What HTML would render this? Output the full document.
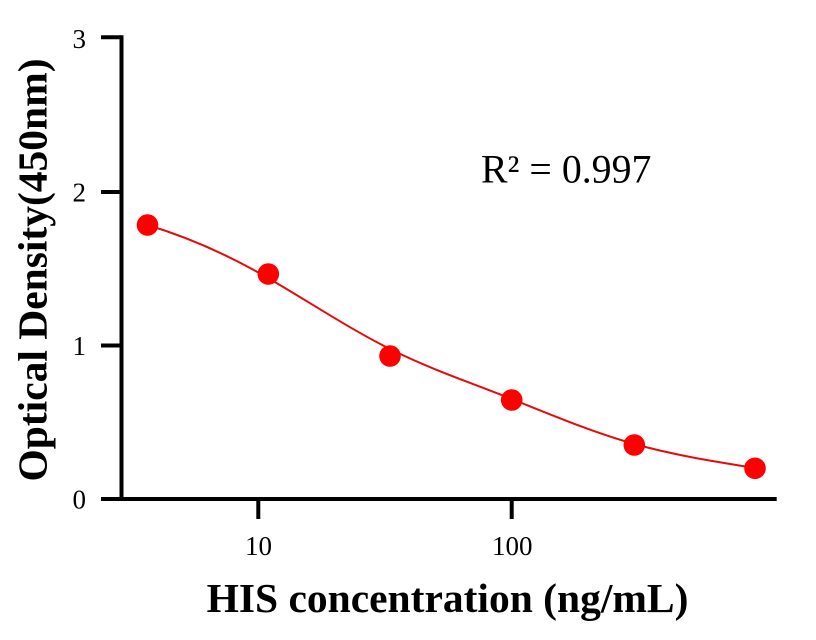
<!DOCTYPE html>
<html>
<head>
<meta charset="utf-8">
<style>
  html, body { margin: 0; padding: 0; background: #ffffff; }
  svg { display: block; }
  text { font-family: "Liberation Serif", "Times New Roman", serif; fill: #000; }
</style>
</head>
<body>
<svg width="816" height="640" viewBox="0 0 816 640" xmlns="http://www.w3.org/2000/svg">
  <rect x="0" y="0" width="816" height="640" fill="#ffffff"/>

  <!-- Axes -->
  <g stroke="#000" stroke-width="4" fill="none" stroke-linecap="butt">
    <line x1="121.5" y1="35.3" x2="121.5" y2="501"/>
    <line x1="101" y1="499" x2="776.7" y2="499"/>
    <!-- y ticks -->
    <line x1="101" y1="37.3" x2="121.5" y2="37.3"/>
    <line x1="101" y1="192" x2="121.5" y2="192"/>
    <line x1="101" y1="345.5" x2="121.5" y2="345.5"/>
    <!-- x ticks -->
    <line x1="258.3" y1="499" x2="258.3" y2="519"/>
    <line x1="511.7" y1="499" x2="511.7" y2="519"/>
  </g>

  <!-- Y tick labels -->
  <g font-size="27" text-anchor="end">
    <text x="86" y="48">3</text>
    <text x="86" y="201.5">2</text>
    <text x="86" y="355">1</text>
    <text x="86" y="508.5">0</text>
  </g>

  <!-- X tick labels -->
  <g font-size="27" text-anchor="middle">
    <text x="258.5" y="555">10</text>
    <text x="512.3" y="555">100</text>
  </g>

  <!-- Fitted curve -->
  <path d="M147.5,225 C187.67,237.05 227.83,254.7 268,278 C308.67,301.59 349.33,328.67 390,349 C430.57,369.28 471.13,382.77 511.7,399 C552.57,415.35 593.43,432.56 634.3,444 C674.53,455.27 714.77,461.56 755,468"
        fill="none" stroke="#e60b0b" stroke-width="2"/>

  <!-- Data points -->
  <g fill="#ff0000">
    <circle cx="147.5" cy="225" r="10.8"/>
    <circle cx="268.3" cy="274" r="10.8"/>
    <circle cx="390" cy="356" r="10.8"/>
    <circle cx="511.7" cy="400" r="10.8"/>
    <circle cx="634.3" cy="445" r="10.8"/>
    <circle cx="755" cy="468.3" r="10.8"/>
  </g>

  <!-- R squared -->
  <text x="481" y="182.7" font-size="39.8">R² = 0.997</text>

  <!-- Axis titles -->
  <text x="447.5" y="612" font-size="41.5" font-weight="bold" text-anchor="middle">HIS concentration (ng/mL)</text>
  <text transform="translate(46.5,270) rotate(-90)" font-size="41.5" font-weight="bold" text-anchor="middle">Optical Density(450nm)</text>
</svg>
</body>
</html>
